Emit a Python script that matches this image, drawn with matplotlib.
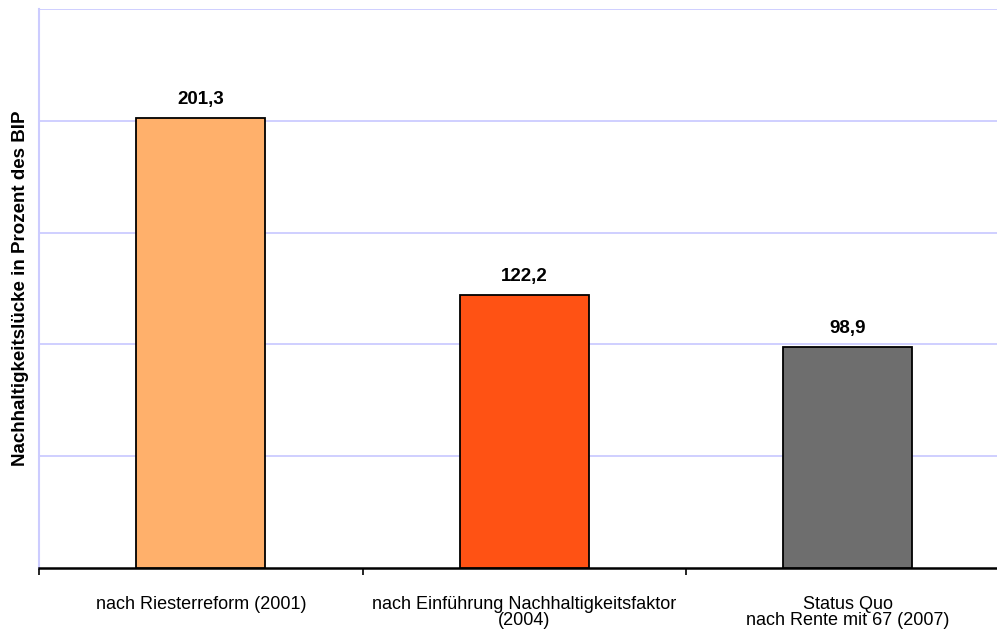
import numpy as np
import matplotlib
matplotlib.use('Agg')
import matplotlib.pyplot as plt

plt.rcParams['font.family'] = ['Liberation Sans', 'DejaVu Sans']

categories = ['nach Riesterreform (2001)',
              'nach Einführung Nachhaltigkeitsfaktor\n(2004)',
              'Status Quo\nnach Rente mit 67 (2007)']
values = [201.3, 122.2, 98.9]
value_labels = ['201,3', '122,2', '98,9']
colors = ['#FFB06B', '#FF5214', '#6E6E6E']

fig = plt.figure(figsize=(9.97, 6.3), dpi=100)
ax = fig.add_axes([39 / 997, 1 - 568 / 630, 1 - 39 / 997, (568 - 9) / 630])

x = np.arange(len(values))
bars = ax.bar(x, values, width=0.4, color=colors, edgecolor='black', linewidth=1.3, zorder=3)

for b, lab in zip(bars, value_labels):
    ax.annotate(lab, (b.get_x() + b.get_width() / 2, b.get_height()),
                xytext=(0, 7), textcoords='offset points',
                ha='center', va='bottom', fontsize=13.5, fontweight='bold')

ax.set_xlim(-0.5, -0.5 + 958 / 323.5)
ax.set_ylim(0, 250)
ax.set_yticks([50, 100, 150, 200, 250])
ax.set_yticklabels([])
ax.tick_params(axis='y', length=0)
ax.yaxis.grid(True, color='#CCCCFF', linewidth=1.3, zorder=0)
ax.set_axisbelow(True)

ax.set_xticks(x)
ax.set_xticklabels(categories, fontsize=13, linespacing=0.95)
ax.tick_params(axis='x', which='major', length=0, pad=20)
ax.set_xticks([-0.5, 0.5, 1.5], minor=True)
ax.tick_params(axis='x', which='minor', length=5, width=1.2, direction='out')

for s in ['top', 'right']:
    ax.spines[s].set_visible(False)
ax.spines['left'].set_color('#CCCCFF')
ax.spines['left'].set_linewidth(1.5)
ax.spines['bottom'].set_linewidth(1.8)

ax.set_ylabel('Nachhaltigkeitslücke in Prozent des BIP', fontsize=13.5, fontweight='bold', labelpad=4)

fig.savefig('out.png', dpi=100)
